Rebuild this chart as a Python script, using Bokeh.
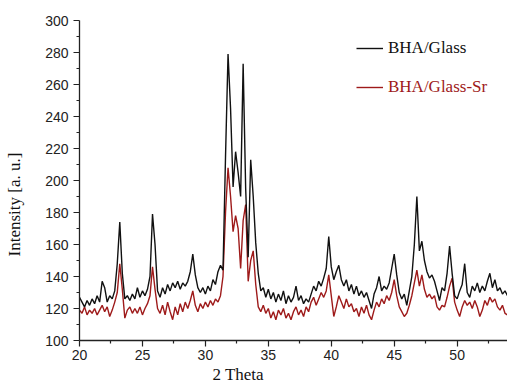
import numpy as np
from bokeh.plotting import figure
from bokeh.models import FixedTicker, Legend, LegendItem, Title, Range1d
from bokeh.embed import file_html
from bokeh.resources import INLINE

# 2-theta scan grid (degrees), 0.2 deg step
two_theta = np.round(np.linspace(20.0, 54.0, 171), 1)

bha_glass = [
    127, 124, 121, 125, 122, 126, 123, 128, 124, 137,   # 20.0-21.8
    133, 124, 128, 126, 131, 148, 174, 142, 126, 128,   # 22.0-23.8
    125, 129, 126, 133, 127, 131, 128, 132, 140, 179,   # 24.0-25.8
    160, 131, 127, 133, 129, 135, 131, 136, 133, 137,   # 26.0-27.8
    132, 136, 134, 137, 143, 154, 141, 133, 130, 133,   # 28.0-29.8
    129, 134, 131, 138, 135, 143, 147, 144, 215, 279,   # 30.0-31.8
    245, 196, 218, 205, 190, 273, 195, 152, 213, 190,   # 32.0-33.8
    161, 142, 131, 133, 127, 132, 126, 130, 124, 129,   # 34.0-35.8
    125, 131, 123, 128, 124, 127, 134, 125, 128, 123,   # 36.0-37.8
    126, 124, 129, 134, 131, 137, 134, 139, 145, 165,   # 38.0-39.8
    146, 138, 143, 147, 138, 134, 138, 131, 135, 129,   # 40.0-41.8
    134, 128, 131, 127, 130, 125, 120, 129, 133, 140,   # 42.0-43.8
    131, 134, 132, 136, 145, 154, 141, 130, 126, 129,   # 44.0-45.8
    122, 131, 140, 160, 190, 156, 162, 150, 143, 139,   # 46.0-47.8
    141, 137, 131, 125, 133, 131, 142, 159, 142, 128,   # 48.0-49.8
    126, 131, 135, 148, 130, 127, 134, 131, 136, 130,   # 50.0-51.8
    134, 131, 137, 142, 133, 138, 131, 133, 129, 131,   # 52.0-53.8
    128,                                                # 54.0
]

bha_glass_sr = [
    119, 117, 121, 116, 119, 117, 120, 116, 119, 122,   # 20.0-21.8
    118, 121, 115, 119, 124, 130, 148, 132, 114, 119,   # 22.0-23.8
    121, 117, 120, 117, 121, 116, 120, 123, 128, 146,   # 24.0-25.8
    132, 120, 117, 122, 116, 124, 118, 113, 121, 116,   # 26.0-27.8
    123, 118, 124, 120, 125, 131, 122, 118, 123, 120,   # 28.0-29.8
    124, 121, 125, 122, 126, 124, 128, 140, 180, 208,   # 30.0-31.8
    190, 168, 178, 170, 145, 175, 185, 137, 150, 156,   # 32.0-33.8
    135, 121, 118, 122, 117, 120, 114, 118, 113, 119,   # 34.0-35.8
    116, 120, 114, 117, 113, 118, 121, 116, 119, 115,   # 36.0-37.8
    121, 118, 124, 127, 122, 126, 130, 127, 131, 141,   # 38.0-39.8
    128, 115, 121, 128, 124, 120, 126, 121, 123, 118,   # 40.0-41.8
    120, 115, 121, 117, 122, 116, 113, 119, 124, 121,   # 42.0-43.8
    126, 123, 128, 125, 130, 138, 128, 121, 118, 115,   # 44.0-45.8
    117, 122, 128, 136, 144, 134, 141, 132, 127, 129,   # 46.0-47.8
    126, 128, 121, 119, 122, 121, 127, 134, 139, 124,   # 48.0-49.8
    119, 115, 121, 125, 122, 124, 120, 125, 121, 115,   # 50.0-51.8
    119, 125, 122, 127, 124, 126, 121, 119, 122, 117,   # 52.0-53.8
    116,                                                # 54.0
]

x_ticks = [20, 25, 30, 35, 40, 45, 50]
x_minor = [22.5, 27.5, 32.5, 37.5, 42.5, 47.5, 52.5]
y_ticks = [100, 120, 140, 160, 180, 200, 220, 240, 260, 280, 300]
y_minor = [110, 130, 150, 170, 190, 210, 230, 250, 270, 290]

series_names = ["BHA/Glass", "BHA/Glass-Sr"]
black = "#111111"
wine = "#9e1a1a"

p = figure(width=507, height=383, output_backend="svg", toolbar_location=None,
           x_range=Range1d(20, 54), y_range=Range1d(100, 300),
           min_border_left=79, min_border_right=0, min_border_top=20,
           min_border_bottom=42)
p.outline_line_color = None
p.grid.visible = False
p.background_fill_color = "white"
p.border_fill_color = "white"

r_red = p.line(two_theta, bha_glass_sr, line_color=wine, line_width=1.4)
r_black = p.line(two_theta, bha_glass, line_color=black, line_width=1.4)

for ax in (p.xaxis[0], p.yaxis[0]):
    ax.axis_line_color = "#222222"
    ax.axis_line_width = 1.3
    ax.major_tick_line_color = "#222222"
    ax.minor_tick_line_color = "#222222"
    ax.major_tick_line_width = 1.2
    ax.minor_tick_line_width = 1.2
    ax.major_tick_out = 6
    ax.major_tick_in = 0
    ax.minor_tick_out = 3
    ax.minor_tick_in = 0
    ax.major_label_text_font = "Liberation Sans"
    ax.major_label_text_font_size = "14px"
    ax.major_label_text_color = "#222222"

p.xaxis.ticker = FixedTicker(ticks=x_ticks, minor_ticks=x_minor)
p.yaxis.ticker = FixedTicker(ticks=y_ticks, minor_ticks=y_minor)
p.xaxis.major_label_standoff = 3
p.yaxis.major_label_standoff = 5

for name, rend, col, ly in [(series_names[0], r_black, black, 282),
                            (series_names[1], r_red, wine, 243)]:
    leg = Legend(items=[LegendItem(label=name, renderers=[rend])],
                 location=(277, ly), border_line_color=None,
                 background_fill_alpha=0, padding=0, margin=0,
                 glyph_width=27, glyph_height=20, label_height=20,
                 label_standoff=5, spacing=0,
                 label_text_font="Liberation Serif",
                 label_text_font_size="17px", label_text_color=col)
    p.add_layout(leg)

p.add_layout(Title(text="2 Theta", align="left", offset=133, standoff=0,
                   text_font="Liberation Serif", text_font_size="17px",
                   text_font_style="normal", text_color="#111111"), "below")
p.add_layout(Title(text="Intensity [a. u.]\n ", align="left", offset=84,
                   standoff=0, text_font="Liberation Serif",
                   text_font_size="17px", text_font_style="normal",
                   text_line_height=1.0,
                   text_color="#111111"), "left")

open("out.html", "w").write(file_html(p, INLINE))
